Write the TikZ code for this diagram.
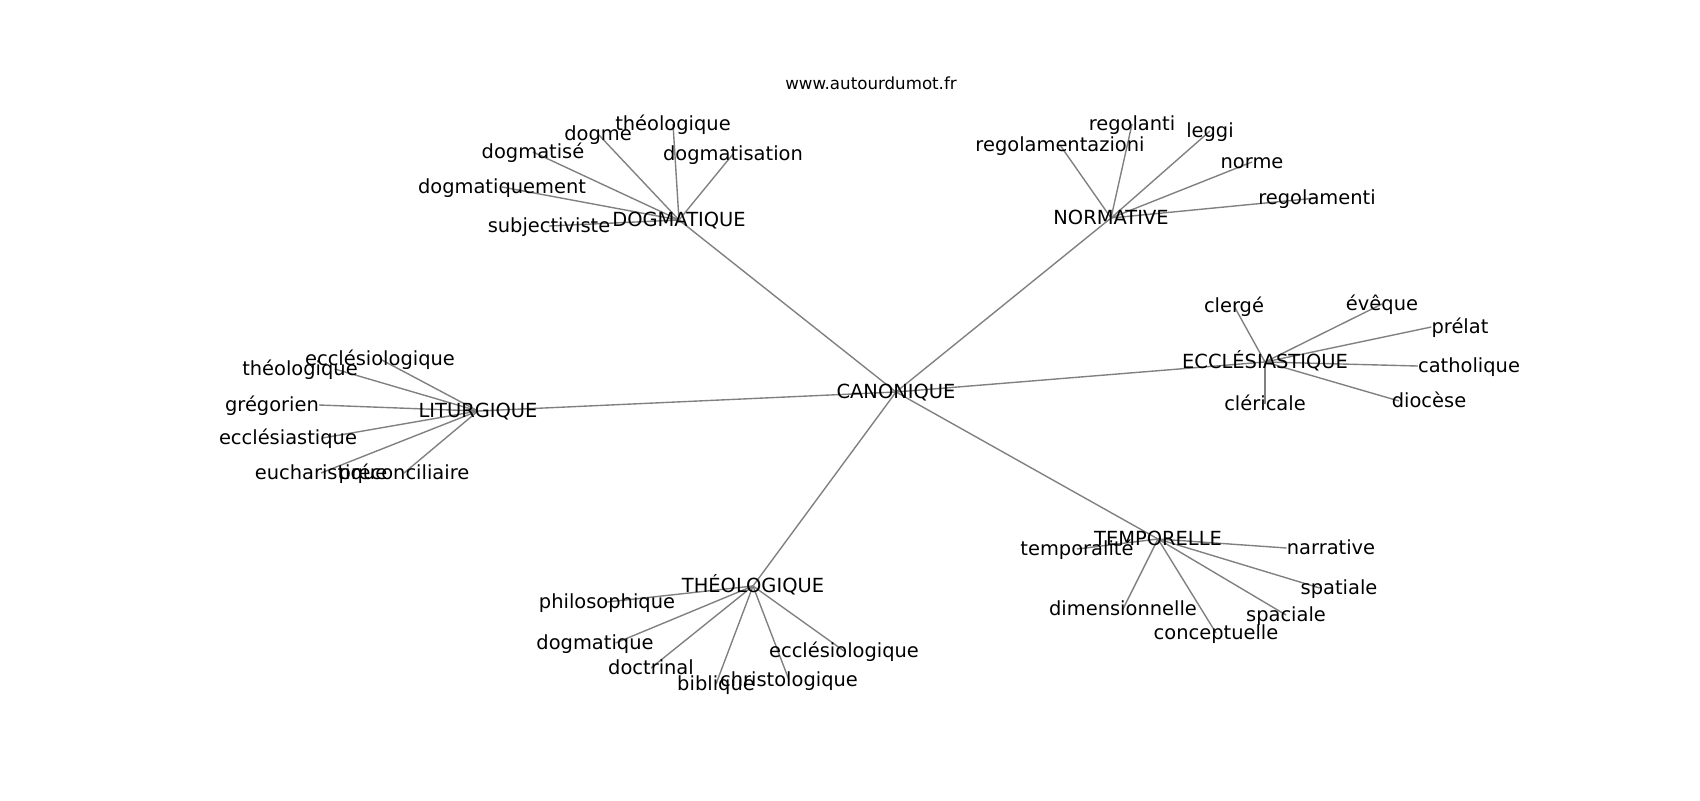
\documentclass[tikz,border=0pt]{standalone}
\usepackage{fontspec}
\setmainfont{DejaVu Sans}
\usetikzlibrary{calc, backgrounds}

\begin{document}
\begin{tikzpicture}[x=0.72pt, y=-0.72pt,
  w/.style={inner sep=0pt, font=\fontsize{14}{16}\selectfont, text height=12pt, text depth=2pt},
  link/.style={draw=gray, line width=1pt}]
\useasboundingbox (0,0) rectangle (1700,800);
\node[inner sep=0pt, font=\fontsize{12}{14}\selectfont] (site) at (871,83) {www.autourdumot.fr};

\node[w] (c) at (896,392) {CANONIQUE};

\node[w] (d) at (679,220) {DOGMATIQUE};
\node[w] (d1) at (598,134) {dogme};
\node[w] (d2) at (673,124) {théologique};
\node[w] (d3) at (533,152) {dogmatisé};
\node[w] (d4) at (733,154) {dogmatisation};
\node[w] (d5) at (502,187) {dogmatiquement};
\node[w] (d6) at (549,226) {subjectiviste};

\node[w] (n) at (1111,218) {NORMATIVE};
\node[w] (n1) at (1132,124) {regolanti};
\node[w] (n2) at (1060,145) {regolamentazioni};
\node[w] (n3) at (1210,131) {leggi};
\node[w] (n4) at (1252,162) {norme};
\node[w] (n5) at (1317,198) {regolamenti};

\node[w] (e) at (1265,362) {ECCLÉSIASTIQUE};
\node[w] (e1) at (1234,306) {clergé};
\node[w] (e2) at (1382,304) {évêque};
\node[w] (e3) at (1460,327) {prélat};
\node[w] (e4) at (1469,366) {catholique};
\node[w] (e5) at (1429,401) {diocèse};
\node[w] (e6) at (1265,404) {cléricale};

\node[w] (t) at (1158,539) {TEMPORELLE};
\node[w] (t1) at (1077,549) {temporalité};
\node[w] (t2) at (1331,548) {narrative};
\node[w] (t3) at (1339,588) {spatiale};
\node[w] (t4) at (1286,615) {spaciale};
\node[w] (t5) at (1216,633) {conceptuelle};
\node[w] (t6) at (1123,609) {dimensionnelle};

\node[w] (th) at (753,586) {THÉOLOGIQUE};
\node[w] (th1) at (607,602) {philosophique};
\node[w] (th2) at (595,643) {dogmatique};
\node[w] (th3) at (651,668) {doctrinal};
\node[w] (th4) at (716,684) {biblique};
\node[w] (th5) at (789,680) {christologique};
\node[w] (th6) at (844,651) {ecclésiologique};

\node[w] (l) at (478,411) {LITURGIQUE};
\node[w] (l1) at (380,359) {ecclésiologique};
\node[w] (l2) at (300,369) {théologique};
\node[w] (l3) at (272,405) {grégorien};
\node[w] (l4) at (288,438) {ecclésiastique};
\node[w] (l5) at (321,473) {eucharistique};
\node[w] (l6) at (404,473) {préconciliaire};

\begin{scope}[on background layer]
\draw[link] (c.center) -- (d.center);
\draw[link] (c.center) -- (n.center);
\draw[link] (c.center) -- (e.center);
\draw[link] (c.center) -- (t.center);
\draw[link] (c.center) -- (th.center);
\draw[link] (c.center) -- (l.center);
\foreach \i in {1,...,6}
  \draw[link] (d.center) -- (d\i.center);
\foreach \i in {1,...,5}
  \draw[link] (n.center) -- (n\i.center);
\draw[link] (e.center) -- (e1.center);
\draw[link] (e.center) -- (e2.center);
\draw[link] (e.center) -- (e3.west);
\draw[link] (e.center) -- (e4.west);
\draw[link] (e.center) -- ($(e5.west)!.2!(e5.center)$);
\draw[link] (e.center) -- (e6.center);
\draw[link] (t.center) -- (t1.center);
\draw[link] (t.center) -- (t2.west);
\draw[link] (t.center) -- ($(t3.west)!.5!(t3.center)$);
\draw[link] (t.center) -- (t4.center);
\draw[link] (t.center) -- (t5.center);
\draw[link] (t.center) -- (t6.center);
\draw[link] (th.center) -- (th1.center);
\draw[link] (th.center) -- ($(th2.center)!.35!(th2.east)$);
\draw[link] (th.center) -- (th3.center);
\draw[link] (th.center) -- (th4.center);
\draw[link] (th.center) -- (th5.center);
\draw[link] (th.center) -- (th6.center);
\draw[link] (l.center) -- (l1.center);
\draw[link] (l.center) -- ($(l2.center)!.6!(l2.east)$);
\draw[link] (l.center) -- (l3.east);
\draw[link] (l.center) -- ($(l4.center)!.5!(l4.east)$);
\draw[link] (l.center) -- (l5.center);
\draw[link] (l.center) -- (l6.center);
\end{scope}
\end{tikzpicture}
\end{document}
